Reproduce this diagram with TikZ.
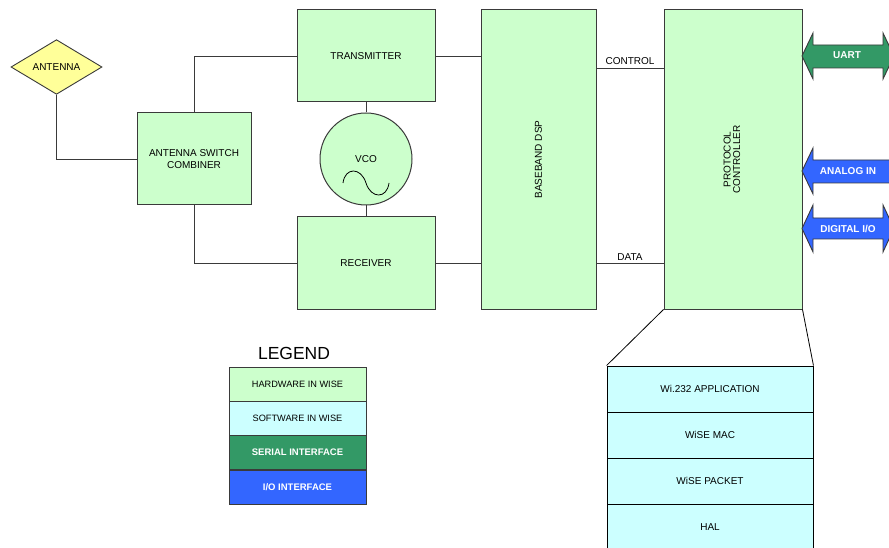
\documentclass[tikz,border=0pt]{standalone}
\usepackage{fontspec}
\setmainfont{Liberation Sans}
\usetikzlibrary{shapes.geometric}
\definecolor{hw}{HTML}{CCFFCC}
\definecolor{sw}{HTML}{CCFFFF}
\definecolor{ser}{HTML}{339966}
\definecolor{io}{HTML}{3366FF}
\definecolor{ant}{HTML}{FFFF99}
\definecolor{bord}{HTML}{3A3A3A}
\begin{document}
\begin{tikzpicture}[x=1pt,y=-1pt,
  txt/.style={font=\fontsize{10}{11.5}\selectfont},
  hwbox/.style={draw=bord, line width=1pt, fill=hw, inner sep=0pt, txt, align=center},
  swrow/.style={draw=black, line width=0.9pt, fill=sw, minimum width=206pt, minimum height=46pt, inner sep=0pt, txt},
  wire/.style={draw=bord, line width=0.9pt},
  legrow/.style={draw=bord, line width=1pt, minimum width=137pt, minimum height=34pt, inner sep=0pt, font=\fontsize{9.2}{11}\selectfont},
  legbold/.style={legrow, text=white, font=\bfseries\fontsize{9.5}{11}\selectfont},
  iface/.style={draw=bord, line width=0.9pt},
  lbl/.style={font=\bfseries\fontsize{10}{11}\selectfont, text=white, inner sep=0pt}
]
\useasboundingbox (0,0) rectangle (889,548);

% hardware blocks
\node[diamond, draw=bord, line width=0.9pt, fill=ant, minimum width=91pt, minimum height=46pt, inner sep=0pt, txt] (ant) at (56.5,67) {ANTENNA};
\node[hwbox, minimum width=114pt, minimum height=92pt] (swc) at (194,159) {ANTENNA SWITCH\\COMBINER};
\node[hwbox, minimum width=138pt, minimum height=92pt] (tx) at (366,56) {TRANSMITTER};
\node[hwbox, minimum width=138pt, minimum height=92pt] (rx) at (366,263) {RECEIVER};
\node[circle, draw=bord, line width=1pt, fill=hw, minimum size=92pt, inner sep=0pt, txt] (vco) at (366,159) {VCO};
\draw[line width=0.8pt] (343,183) .. controls (345,167) and (361,167) .. (366,183) .. controls (371,199) and (387,199) .. (389,183);
\node[hwbox, minimum width=115pt, minimum height=299pt] (dsp) at (538.5,159.5) {\rotatebox{90}{BASEBAND DSP}};
\node[hwbox, minimum width=138pt, minimum height=299pt] (pc) at (733,159.5) {\rotatebox{90}{\begin{tabular}{@{}c@{}}PROTOCOL\\[-2pt]CONTROLLER\end{tabular}}};

% wires
\draw[wire] (ant.south) |- (swc.west);
\draw[wire] (swc.north) |- (tx.west);
\draw[wire] (swc.south) |- (rx.west);
\draw[wire] (tx.south) -- (vco.north);
\draw[wire] (vco.south) -- (rx.north);
\draw[wire] (tx.east) -- (tx.east -| dsp.west);
\draw[wire] (rx.east) -- (rx.east -| dsp.west);
\coordinate (cL) at (dsp.east |- 0,68);
\coordinate (cR) at (pc.west |- 0,68);
\draw[wire] (cL) -- node[above, txt, inner sep=2.5pt] {CONTROL} (cR);
\coordinate (dL) at (dsp.east |- 0,263);
\coordinate (dR) at (pc.west |- 0,263);
\draw[wire] (dL) -- node[above, txt, inner sep=2pt] {DATA} (dR);

% interface arrows
\filldraw[iface, fill=ser] (802,56) -- (813,33) -- (813,45) -- (883,45) -- (883,33) -- (894,56) -- (883,79) -- (883,68) -- (813,68) -- (813,79) -- cycle;
\node[lbl] (uart) at (847,55.5) {UART};
\filldraw[iface, fill=io] (802,171) -- (813,148) -- (813,160) -- (900,160) -- (900,183) -- (813,183) -- (813,194) -- cycle;
\node[lbl] (ain) at (848,171) {ANALOG IN};
\filldraw[iface, fill=io] (802,228.5) -- (813,205) -- (813,218) -- (883,218) -- (883,205) -- (894,228.5) -- (883,252) -- (883,239) -- (813,239) -- (813,252) -- cycle;
\node[lbl] (dio) at (848,229) {DIGITAL I/O};

% software stack
\node[swrow] (app) at (710,389) {Wi.232 APPLICATION};
\node[swrow] (mac) at (710,435) {WiSE MAC};
\node[swrow] (pkt) at (710,481) {WiSE PACKET};
\node[swrow] (hal) at (710,527) {HAL};
\draw[line width=0.8pt] (pc.south west) -- (app.north west);
\draw[line width=0.8pt] (pc.south east) -- (app.north east);

% legend
\node[font=\fontsize{17.5}{20}\selectfont, inner sep=0pt] (leg) at (294,353) {LEGEND};
\node[legrow, fill=hw] (l1) at (297.5,384) {HARDWARE IN WISE};
\node[legrow, fill=sw] (l2) at (297.5,418) {SOFTWARE IN WISE};
\node[legbold, fill=ser] (l3) at (297.5,452.5) {SERIAL INTERFACE};
\node[legbold, fill=io] (l4) at (297.5,487) {I/O INTERFACE};
\end{tikzpicture}
\end{document}
